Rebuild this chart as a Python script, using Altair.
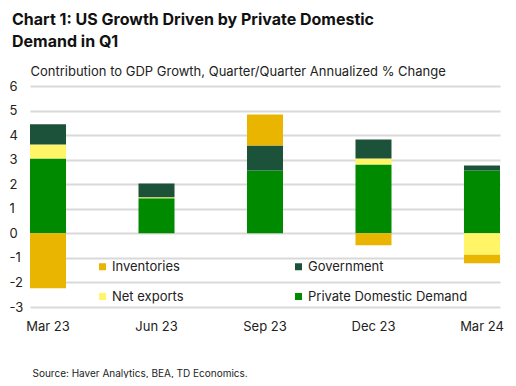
import altair as alt
import pandas as pd

quarters = ["Mar 23", "Jun 23", "Sep 23", "Dec 23", "Mar 24"]
private_domestic = [3.05, 1.43, 2.56, 2.80, 2.56]
net_exports = [0.57, 0.04, 0.0, 0.25, -0.87]
government = [0.82, 0.56, 1.02, 0.77, 0.20]
inventories = [-2.24, 0.0, 1.26, -0.49, -0.35]

series = ["Inventories", "Net exports", "Government", "Private Domestic Demand"]
colors = ["#E9B500", "#FFF566", "#1C523A", "#008A00"]
stack_order = {"Private Domestic Demand": 0, "Net exports": 1, "Government": 2, "Inventories": 3}

rows = []
for i, q in enumerate(quarters):
    for name, vals in [("Private Domestic Demand", private_domestic), ("Net exports", net_exports),
                       ("Government", government), ("Inventories", inventories)]:
        rows.append({"quarter": q, "series": name, "value": vals[i], "order": stack_order[name]})
df = pd.DataFrame(rows)

FONT = "Inter"

chart = alt.Chart(df).mark_bar().encode(
    x=alt.X("quarter:N", sort=quarters,
            scale=alt.Scale(paddingInner=0.668, paddingOuter=0),
            axis=alt.Axis(title="Source: Haver Analytics, BEA, TD Economics.", labelAngle=0,
                          domain=False, ticks=False, labelPadding=13, labelFontSize=13,
                          labelColor="#222", labelFont=FONT,
                          titleFont=FONT, titleFontSize=10, titleFontWeight="normal", titleColor="#222",
                          titleAnchor="start", titleAlign="left", titleX=2, titleY=69,
                          titleBaseline="alphabetic")),
    y=alt.Y("value:Q", stack="zero",
            scale=alt.Scale(domain=[-3, 6], nice=False),
            axis=alt.Axis(title="Contribution to GDP Growth, Quarter/Quarter Annualized % Change",
                          values=list(range(-3, 7)), labelExpr="'' + datum.value",
                          domain=False, ticks=False, labelPadding=21, labelAlign="left",
                          labelFontSize=13, labelColor="#222", labelFont=FONT,
                          gridColor="#D9D9D9", gridWidth=2,
                          titleFont=FONT, titleFontSize=13, titleFontWeight="normal", titleColor="#222",
                          titleAngle=0, titleAlign="left", titleX=0, titleY=-11,
                          titleBaseline="alphabetic")),
    color=alt.Color("series:N", scale=alt.Scale(domain=series, range=colors),
                    legend=alt.Legend(title=None, orient="none", legendX=66, legendY=174,
                                      columns=2, columnPadding=108, rowPadding=16,
                                      symbolType="square", symbolSize=49, symbolStrokeWidth=0,
                                      labelFont=FONT, labelFontSize=13, labelColor="#222",
                                      labelOffset=3)),
    order=alt.Order("order:Q"),
).properties(
    width=470, height=221,
    padding={"left": 22, "top": 78, "right": 8, "bottom": 71},
    autosize=alt.AutoSizeParams(type="none"),
    title=alt.TitleParams(text=["Chart 1: US Growth Driven by Private Domestic", "Demand in Q1"],
                          anchor="start", font=FONT, fontSize=16, fontWeight="bold",
                          color="#111", lineHeight=22, dx=3, offset=15),
).configure_view(stroke=None)

chart.save("out.html", embed_options={"renderer": "svg", "actions": False})
